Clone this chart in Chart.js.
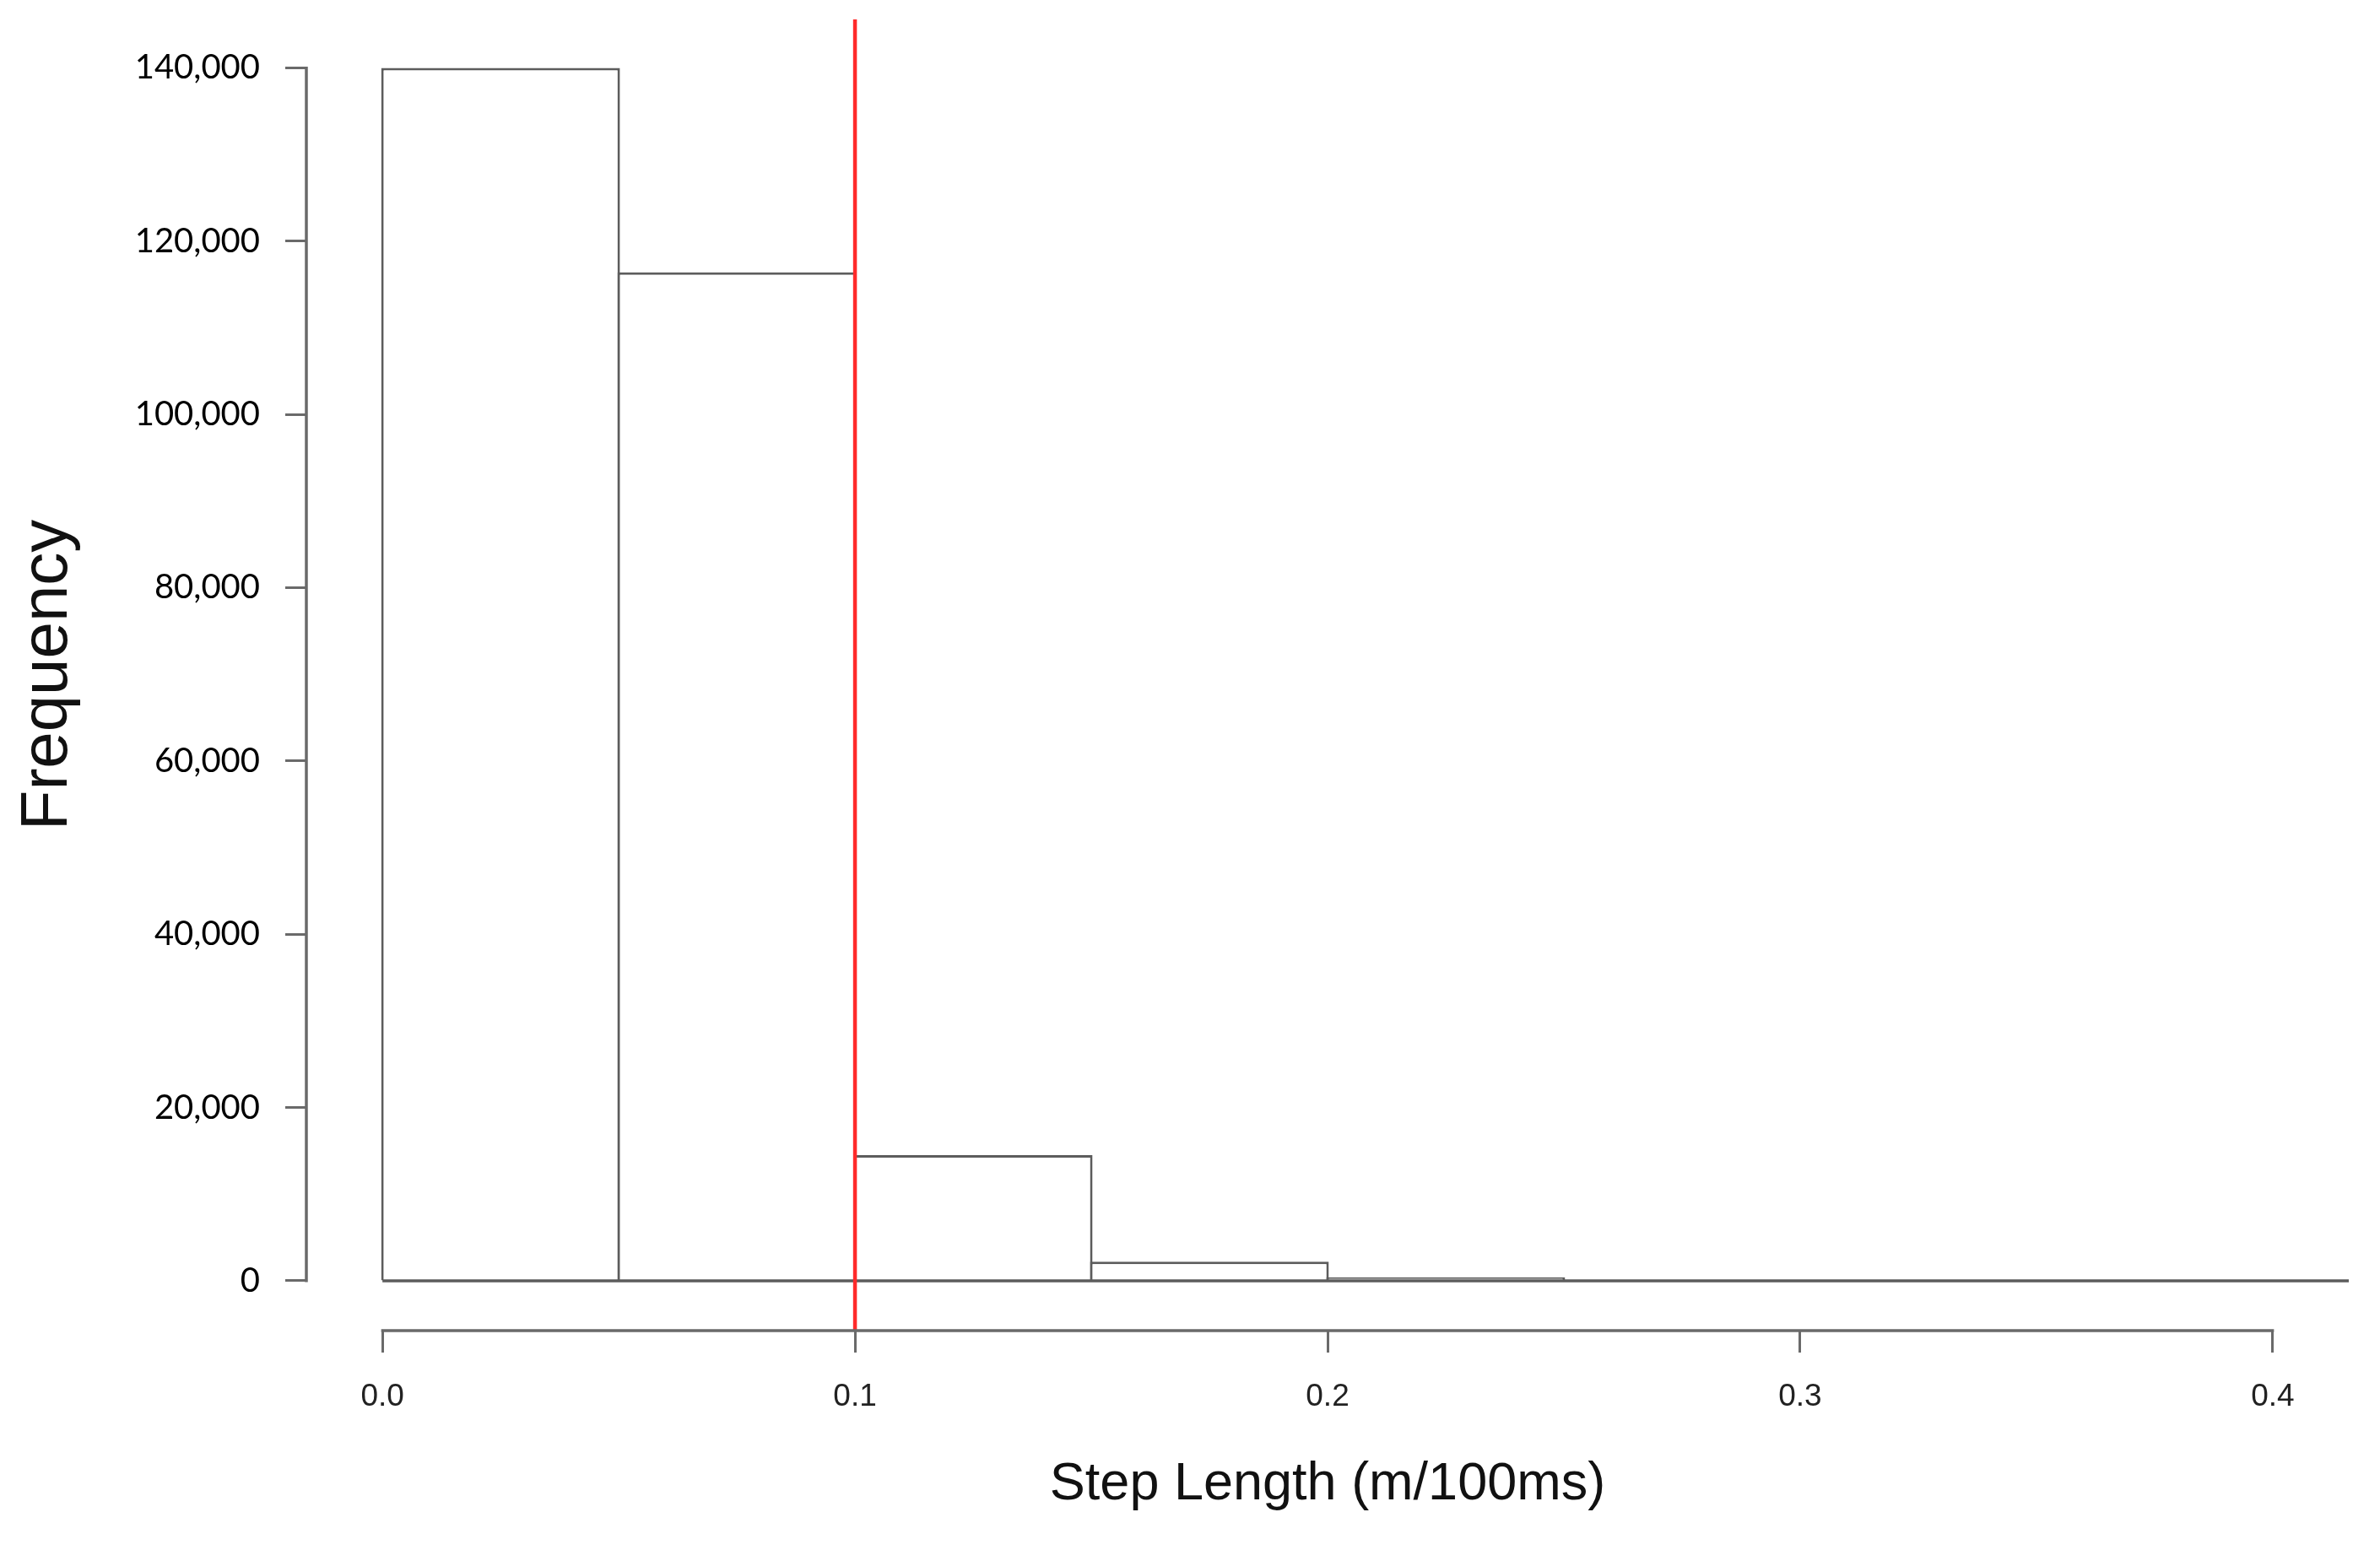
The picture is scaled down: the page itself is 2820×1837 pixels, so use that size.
<!DOCTYPE html>
<html>
<head>
<meta charset="utf-8">
<script src="https://cdn.jsdelivr.net/npm/chart.js@4/dist/chart.umd.min.js"></script>
<style>
  html, body { margin: 0; padding: 0; background: #ffffff; }
  #wrap { width: 2820px; height: 1837px; position: relative; }
</style>
</head>
<body>
<div id="wrap"><canvas id="c" width="2820" height="1837"></canvas></div>
<script>
// ---- data ----
const binStarts = [0.00, 0.05, 0.10, 0.15, 0.20, 0.25, 0.30, 0.35, 0.40];
const binWidth = 0.05;
const counts = [140000, 116400, 14500, 2200, 400, 100, 40, 15, 5];
const yTickValues = [0, 20000, 40000, 60000, 80000, 100000, 120000, 140000];
const xTickValues = [0.0, 0.1, 0.2, 0.3, 0.4];
const cutoff = 0.1;
const xRange = [-0.0161, 0.4161];
const yRange = [-5750, 145600];
const xTitle = 'Step Length (m/100ms)';
const yTitle = 'Frequency';

const barData = binStarts.map((s, i) => ({ x: s + binWidth / 2, y: counts[i] }));
const baseData = [{ x: binStarts[0], y: 0 }, { x: binStarts[binStarts.length - 1] + binWidth, y: 0 }];
const cutData = [{ x: cutoff, y: yRange[1] }, { x: cutoff, y: yRange[0] }];

const SANS = "'Liberation Sans', Arial, Helvetica, sans-serif";
const LINE = '#5c5c5c';

// R-style detached axis lines (spanning only the tick range)
const rAxes = {
  id: 'rAxes',
  afterDraw(chart) {
    const { ctx, chartArea, scales: { x, y } } = chart;
    ctx.save();
    ctx.strokeStyle = '#6a6a6a';
    ctx.lineWidth = 3.5;
    ctx.beginPath();
    ctx.moveTo(chartArea.left, y.getPixelForValue(yTickValues[0]) + 1.5);
    ctx.lineTo(chartArea.left, y.getPixelForValue(yTickValues[yTickValues.length - 1]) - 1.5);
    ctx.moveTo(x.getPixelForValue(xTickValues[0]) - 1.5, chartArea.bottom);
    ctx.lineTo(x.getPixelForValue(xTickValues[xTickValues.length - 1]) + 1.5, chartArea.bottom);
    ctx.stroke();
    ctx.restore();
  }
};

new Chart(document.getElementById('c'), {
  type: 'bar',
  data: {
    datasets: [
      {
        type: 'line',
        data: cutData,
        borderColor: '#ff2a2a',
        borderWidth: 4.5,
        pointRadius: 0,
        clip: false
      },
      {
        type: 'line',
        data: baseData,
        borderColor: LINE,
        borderWidth: 3.5,
        pointRadius: 0,
        clip: 0
      },
      {
        type: 'bar',
        data: barData,
        backgroundColor: '#ffffff',
        borderColor: LINE,
        borderWidth: { top: 3, left: 3, right: 3, bottom: 0 },
        borderSkipped: false,
        inflateAmount: 0,
        barPercentage: 283 / 280,
        categoryPercentage: 1.0,
        clip: 0
      }
    ]
  },
  options: {
    responsive: false,
    animation: false,
    layout: { padding: { left: 0, top: 23, right: 37, bottom: 0 } },
    plugins: { legend: { display: false }, tooltip: { enabled: false } },
    scales: {
      x: {
        type: 'linear',
        min: xRange[0],
        max: xRange[1],
        offset: false,
        afterBuildTicks: (s) => { s.ticks = xTickValues.map(v => ({ value: v })); },
        afterFit: (s) => { s.height = 260; s.paddingLeft = 0; s.paddingRight = 0; },
        ticks: {
          callback: (v) => Number(v).toFixed(1),
          font: { family: SANS, size: 37 },
          color: '#222222',
          padding: 31,
          maxRotation: 0,
          autoSkip: false
        },
        grid: { offset: false, drawOnChartArea: false, drawTicks: true, tickLength: 26, tickColor: '#6a6a6a', tickWidth: 3 },
        border: { display: false },
        title: {
          display: true,
          text: xTitle,
          font: { family: SANS, size: 63 },
          color: '#111111',
          padding: { top: 0, bottom: 40 }
        }
      },
      y: {
        type: 'linear',
        min: yRange[0],
        max: yRange[1],
        afterBuildTicks: (s) => { s.ticks = yTickValues.map(v => ({ value: v })); },
        afterFit: (s) => { s.width = 363; s.paddingTop = 0; s.paddingBottom = 0; },
        ticks: {
          callback: (v) => Number(v).toLocaleString('en-US'),
          font: { family: 'Lato', size: 40 },
          color: '#000000',
          padding: 30,
          autoSkip: false
        },
        grid: { offset: false, drawOnChartArea: false, drawTicks: true, tickLength: 25, tickColor: '#6a6a6a', tickWidth: 3 },
        border: { display: false },
        title: {
          display: true,
          text: yTitle,
          font: { family: SANS, size: 78 },
          color: '#111111',
          padding: { top: 11, bottom: 0 }
        }
      }
    }
  },
  plugins: [rAxes]
});
</script>
</body>
</html>
